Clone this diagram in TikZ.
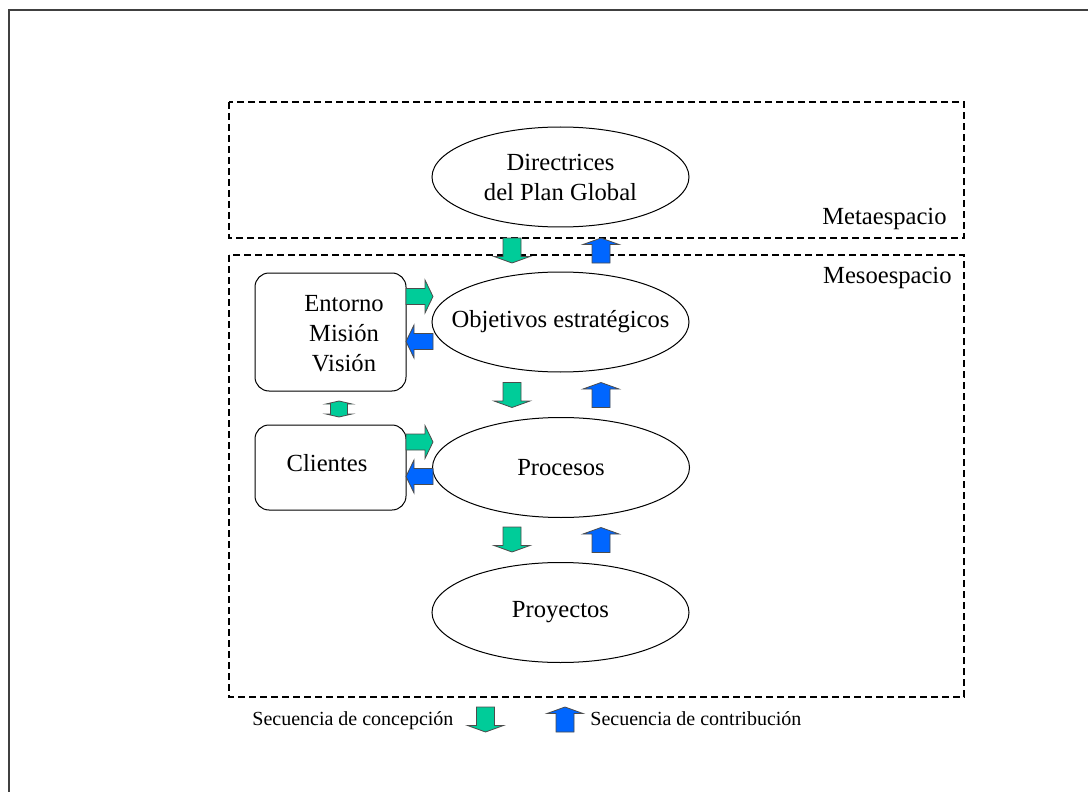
\documentclass[tikz,border=0pt]{standalone}
\usepackage{fontspec}
\setmainfont{Liberation Serif}
\usetikzlibrary{shapes.geometric}
\definecolor{cgreen}{RGB}{0,204,153}
\definecolor{cblue}{RGB}{0,102,255}
\begin{document}
\begin{tikzpicture}[x=0.5pt,y=-0.5pt,
  every node/.style={font=\fontsize{12.3}{15}\selectfont, inner sep=0pt},
  oval/.style={ellipse, draw, line width=0.5pt, minimum width=128.5pt, minimum height=50pt, inner xsep=-40pt, inner ysep=-12pt},
  rbox/.style={draw, rounded corners=7pt, line width=0.5pt, minimum width=75.5pt},
  zone/.style={draw, dash pattern=on 3.5pt off 2pt, line width=0.7pt},
  blk/.style={draw=black!70, line width=0.4pt},
  legend/.style={font=\fontsize{10}{12}\selectfont, anchor=base west},
  zonelabel/.style={anchor=base east},
  pics/downarr/.style={code={\draw[blk,fill=cgreen] (-9,-12.5) -- (9,-12.5) -- (9,6) -- (18,6) -- (0,12.5) -- (-18,6) -- (-9,6) -- cycle;}},
  pics/uparr/.style={code={\draw[blk,fill=cblue] (-9,12.5) -- (9,12.5) -- (9,-6) -- (18,-6) -- (0,-12.5) -- (-18,-6) -- (-9,-6) -- cycle;}},
  pics/rightarr/.style={code={\draw[blk,fill=cgreen] (-13.5,-8) -- (5.5,-8) -- (5.5,-16.5) -- (13.5,0) -- (5.5,16.5) -- (5.5,8) -- (-13.5,8) -- cycle;}},
  pics/leftarr/.style={code={\draw[blk,fill=cblue] (13.5,-8) -- (-5.5,-8) -- (-5.5,-16.5) -- (-13.5,0) -- (-5.5,16.5) -- (-5.5,8) -- (13.5,8) -- cycle;}},
  pics/updownarr/.style={code={\draw[blk,fill=cgreen] (-8.5,-5) -- (-13,-5) -- (0,-8) -- (13,-5) -- (8.5,-5) -- (8.5,5) -- (13,5) -- (0,8) -- (-13,5) -- (-8.5,5) -- cycle;}}
]
\useasboundingbox (0,0) rectangle (1088,792);
% outer frame (top and left edges only)
\draw[black!75, line width=1.2pt] (9,792) -- (9,10) -- (1088,10);

% zones
\draw[zone] (229,102) rectangle (964,238);
\draw[zone] (229,255) rectangle (964,697);
\node[zonelabel] (metalbl) at (947,225) {Metaespacio};
\node[zonelabel] (mesolbl) at (952,283) {Mesoespacio};

% ellipses
\node[oval, align=center] (dir) at (560.5,177) {Directrices\\del Plan Global};
\node[oval] (obj) at (560.5,322) {Objetivos estratégicos};
\node[oval] (proc) at (561,467.5) {Procesos};
\node[oval] (proy) at (560.5,612.5) {Proyectos};

% boxes
\node[rbox, minimum height=59pt] (ent) at (330.5,332) {};
\node[align=center] (enttext) at (344,334) {Entorno\\Misión\\Visión};
\node[rbox, minimum height=42.5pt] (cli) at (330.5,467.5) {};
\node (clitext) at (327,463) {Clientes};

% block arrows
\pic at (512,250.5) {downarr};
\pic at (601,250.5) {uparr};
\pic at (512,395) {downarr};
\pic at (601,395) {uparr};
\pic at (512,539.5) {downarr};
\pic at (601,540) {uparr};
\pic at (419.5,296.5) {rightarr};
\pic at (419.5,341.5) {leftarr};
\pic at (419.5,442) {rightarr};
\pic at (419.5,476.5) {leftarr};
\pic at (339,409) {updownarr};

% legend
\node[legend] (leg1) at (252,725) {Secuencia de concepción};
\pic at (485.5,719.5) {downarr};
\pic at (565,719.5) {uparr};
\node[legend] (leg2) at (590,725) {Secuencia de contribución};
\end{tikzpicture}
\end{document}
